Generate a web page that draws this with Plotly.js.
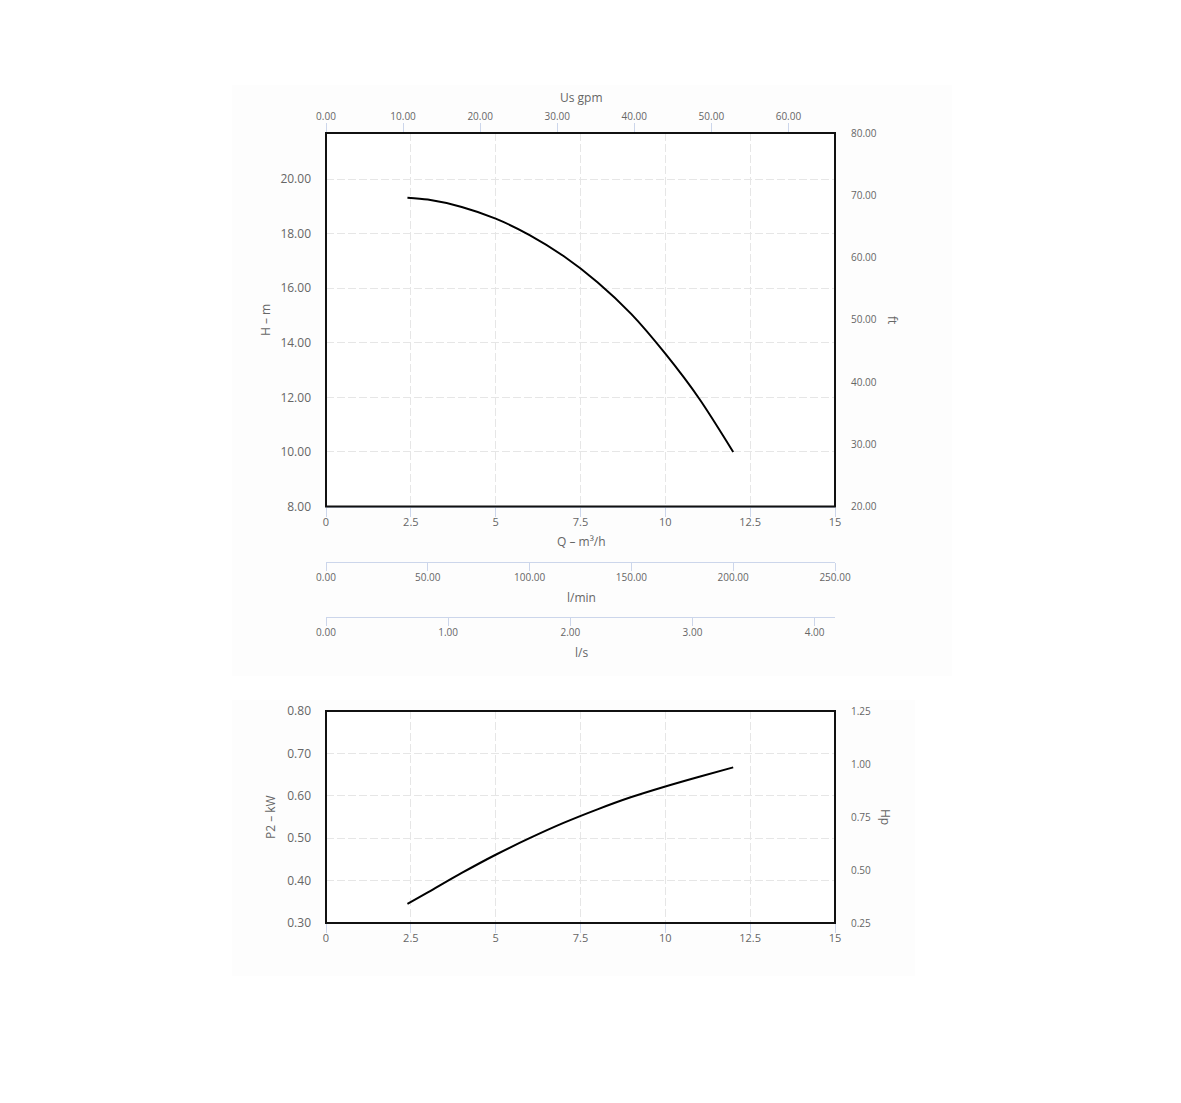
<!DOCTYPE html>
<html>
<head>
<meta charset="utf-8">
<script src="https://cdn.plot.ly/plotly-3.0.1.min.js"></script>
<style>
  html, body { margin: 0; padding: 0; background: #ffffff; }
  #chart { width: 1181px; height: 1103px; }
</style>
</head>
<body>
<div id="chart"></div>
<script>
// ---- Data ----
const flowQ = [2.40, 3.0, 4.0, 5.0, 6.0, 7.0, 8.0, 9.0, 10.0, 11.0, 12.0];
const headH = [19.32, 19.25, 18.98, 18.55, 17.95, 17.18, 16.22, 15.05, 13.60, 11.95, 10.00];

const powerQ = [2.40, 3.0, 4.0, 5.0, 6.0, 7.0, 8.0, 9.0, 10.0, 11.0, 12.0];
const powerP2 = [0.345, 0.372, 0.418, 0.461, 0.500, 0.536, 0.568, 0.597, 0.622, 0.645, 0.667];

const qTickVals = [0, 2.5, 5, 7.5, 10, 12.5, 15];
const qTickText = ["0", "2.5", "5", "7.5", "10", "12.5", "15"];

// Axis ranges (in the unit of each axis)
const qRange = [0, 15];
const gpmRange = [0, 66.043];
const lminRange = [0, 250];
const lsRange = [0, 4.1667];
const hRange = [8, 21.69];
const ftRange = [20, 80];
const p2Range = [0.30, 0.80];
const hpRange = [0.25, 1.25];

// ---- Layout helpers ----
const W = 1181, H = 1103;
const px = v => v / W;
const py = v => 1 - v / H;

const FONT = "Open Sans, DejaVu Sans, sans-serif";
const LBL = "#666666";
const TICKC = "#ccd6eb";
const GRID = "#e6e6e6";
const GDASH = "8px,3px";

const xDom = [px(326), px(835)];
const topDom = [py(506.5), py(133)];
const botDom = [py(923), py(711)];

const traces = [
  { x: flowQ, y: headH, xaxis: "x", yaxis: "y", mode: "lines",
    line: { color: "#000000", width: 2, shape: "spline", smoothing: 0.8 }, hoverinfo: "skip" },
  { x: powerQ, y: powerP2, xaxis: "x5", yaxis: "y3", mode: "lines",
    line: { color: "#000000", width: 2, shape: "spline", smoothing: 0.8 }, hoverinfo: "skip" },
  // invisible anchors so every secondary axis gets drawn
  { x: gpmRange, y: hRange, xaxis: "x2", yaxis: "y", mode: "markers", marker: { opacity: 0 }, hoverinfo: "skip" },
  { x: qRange, y: ftRange, xaxis: "x", yaxis: "y2", mode: "markers", marker: { opacity: 0 }, hoverinfo: "skip" },
  { x: lminRange, y: hRange, xaxis: "x3", yaxis: "y", mode: "markers", marker: { opacity: 0 }, hoverinfo: "skip" },
  { x: lsRange, y: hRange, xaxis: "x4", yaxis: "y", mode: "markers", marker: { opacity: 0 }, hoverinfo: "skip" },
  { x: qRange, y: hpRange, xaxis: "x5", yaxis: "y4", mode: "markers", marker: { opacity: 0 }, hoverinfo: "skip" }
];

const smallFont = { family: FONT, size: 10, color: LBL };
const midFont = { family: FONT, size: 11, color: LBL };
const bigFont = { family: FONT, size: 12, color: LBL };

function qAxis(anchor, dom) {
  return {
    domain: dom, anchor: anchor, range: qRange, fixedrange: true,
    tickmode: "array", tickvals: qTickVals, ticktext: qTickText,
    ticks: "outside", ticklen: 9, tickcolor: TICKC, tickwidth: 1, ticklabelstandoff: -4,
    showline: true, linecolor: TICKC,
    showgrid: true, gridcolor: GRID, griddash: GDASH, gridwidth: 1,
    zeroline: false, tickfont: midFont
  };
}

const layout = {
  width: W, height: H,
  margin: { l: 0, r: 0, t: 0, b: 0, pad: 0 },
  paper_bgcolor: "#ffffff",
  plot_bgcolor: "rgba(0,0,0,0)",
  showlegend: false,
  font: { family: FONT, color: LBL },
  xaxis: qAxis("y", xDom),
  xaxis2: {
    overlaying: "x", side: "top", anchor: "y", range: gpmRange, fixedrange: true,
    dtick: 10, tick0: 0, tickformat: ".2f",
    ticks: "outside", ticklen: 9, tickcolor: TICKC, showline: true, linecolor: TICKC,
    ticklabelstandoff: -1,
    showgrid: false, zeroline: false, tickfont: smallFont
  },
  xaxis3: {
    overlaying: "x", anchor: "free", position: py(562), side: "bottom",
    range: lminRange, fixedrange: true, dtick: 50, tick0: 0, tickformat: ".2f",
    ticks: "outside", ticklen: 8, tickcolor: TICKC, showline: true, linecolor: TICKC,
    ticklabelstandoff: -2,
    showgrid: false, zeroline: false, tickfont: smallFont
  },
  xaxis4: {
    overlaying: "x", anchor: "free", position: py(617), side: "bottom",
    range: lsRange, fixedrange: true, dtick: 1, tick0: 0, tickformat: ".2f",
    ticks: "outside", ticklen: 8, tickcolor: TICKC, showline: true, linecolor: TICKC,
    ticklabelstandoff: -2,
    showgrid: false, zeroline: false, tickfont: smallFont
  },
  yaxis: {
    domain: topDom, anchor: "x", range: hRange, fixedrange: true,
    dtick: 2, tick0: 8, tickformat: ".2f", ticks: "", ticklabelstandoff: 14,
    showgrid: true, gridcolor: GRID, griddash: GDASH, zeroline: false, showline: false,
    tickfont: bigFont
  },
  yaxis2: {
    overlaying: "y", side: "right", anchor: "x", range: ftRange, fixedrange: true,
    dtick: 10, tick0: 20, tickformat: ".2f", ticks: "", ticklabelstandoff: 15,
    showgrid: false, zeroline: false, showline: false, tickfont: smallFont
  },
  xaxis5: qAxis("y3", xDom),
  yaxis3: {
    domain: botDom, anchor: "x5", range: p2Range, fixedrange: true,
    dtick: 0.1, tick0: 0.3, tickformat: ".2f", ticks: "", ticklabelstandoff: 14,
    showgrid: true, gridcolor: GRID, griddash: GDASH, zeroline: false, showline: false,
    tickfont: bigFont
  },
  yaxis4: {
    overlaying: "y3", side: "right", anchor: "x5", range: hpRange, fixedrange: true,
    dtick: 0.25, tick0: 0.25, tickformat: ".2f", ticks: "", ticklabelstandoff: 15,
    showgrid: false, zeroline: false, showline: false, tickfont: smallFont
  },
  shapes: [
    { type: "rect", xref: "paper", yref: "paper", x0: px(232), x1: px(952), y0: py(676), y1: py(85),
      fillcolor: "#fdfdfd", line: { width: 0 }, layer: "below" },
    { type: "rect", xref: "paper", yref: "paper", x0: px(232), x1: px(915), y0: py(976), y1: py(700),
      fillcolor: "#fdfdfd", line: { width: 0 }, layer: "below" },
    { type: "rect", xref: "x domain", yref: "y domain", x0: 0, x1: 1, y0: 0, y1: 1,
      fillcolor: "#ffffff", line: { width: 0 }, layer: "below" },
    { type: "rect", xref: "x5 domain", yref: "y3 domain", x0: 0, x1: 1, y0: 0, y1: 1,
      fillcolor: "#ffffff", line: { width: 0 }, layer: "below" },
    { type: "rect", xref: "x domain", yref: "y domain", x0: 0, x1: 1, y0: 0, y1: 1,
      line: { color: "#111111", width: 2 }, layer: "above" },
    { type: "rect", xref: "x5 domain", yref: "y3 domain", x0: 0, x1: 1, y0: 0, y1: 1,
      line: { color: "#111111", width: 2 }, layer: "above" }
  ],
  annotations: [
    { text: "Us gpm", x: px(581), y: py(98) },
    { text: "Q – m³/h", x: px(581), y: py(541) },
    { text: "l/min", x: px(581), y: py(597) },
    { text: "l/s", x: px(581), y: py(652) },
    { text: "H – m", x: px(265), y: py(320), textangle: -90 },
    { text: "ft", x: px(893), y: py(320), textangle: 90 },
    { text: "P2 – kW", x: px(270), y: py(817), textangle: -90 },
    { text: "Hp", x: px(886), y: py(817), textangle: 90 }
  ].map(a => Object.assign({
    xref: "paper", yref: "paper", xanchor: "center", yanchor: "middle",
    showarrow: false, font: bigFont
  }, a))
};

Plotly.newPlot("chart", traces, layout, { displayModeBar: false, staticPlot: true });
</script>
</body>
</html>
